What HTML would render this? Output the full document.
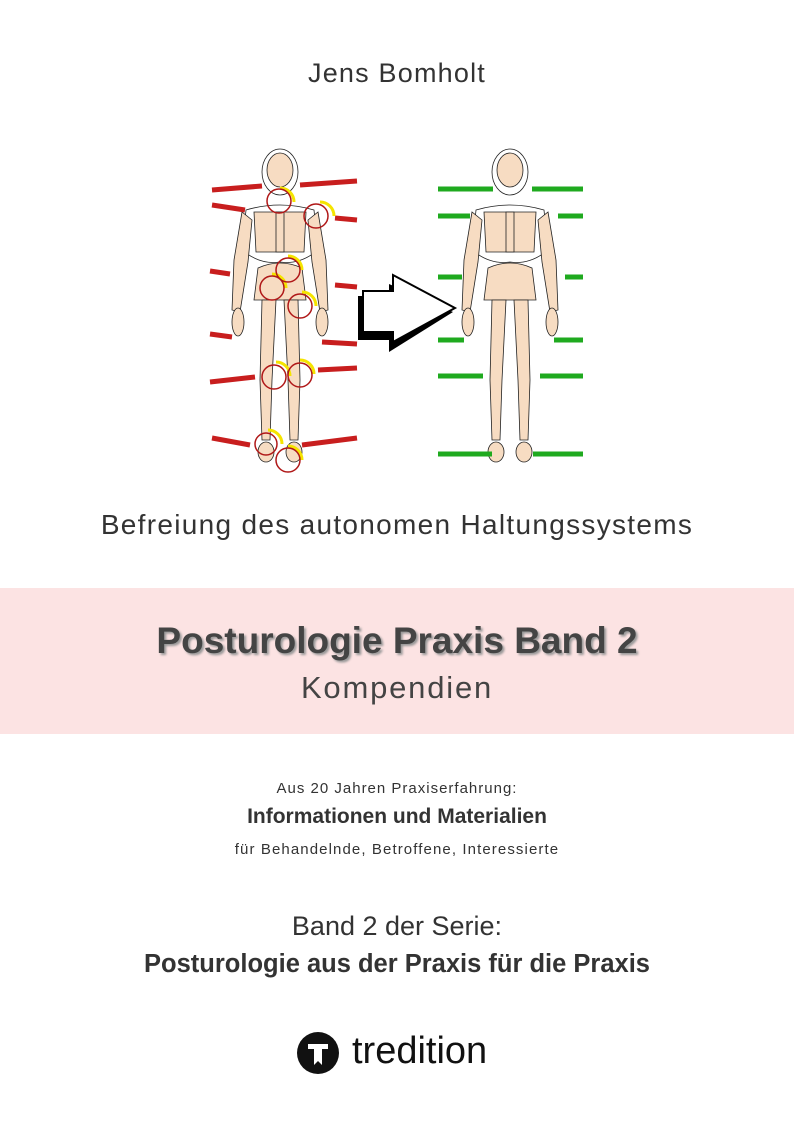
<!DOCTYPE html>
<html><head><meta charset="utf-8"><style>
body{margin:0;width:794px;height:1123px;background:#fff;position:relative;overflow:hidden;font-family:"Liberation Sans",sans-serif;color:#333}
.t{position:absolute;left:0;width:794px;text-align:center;white-space:nowrap}
</style></head><body>
<div class="t" style="top:58px;font-size:27px;letter-spacing:1.2px">Jens Bomholt</div>
<svg style="position:absolute;left:0;top:0" width="794" height="500">
<g id="sk" stroke="#222" stroke-width="0.8" fill="#f7dcc2">
 <ellipse cx="280" cy="172" rx="18" ry="23" fill="#fff"/>
 <ellipse cx="280" cy="170" rx="13" ry="17"/>
 <path d="M246 210 Q280 200 314 210 L318 250 Q300 265 280 262 Q260 265 242 250Z" fill="#fff"/>
 <path d="M254 212 L306 212 L304 252 L256 252Z"/>
 <rect x="276" y="212" width="8" height="40"/>
 <path d="M258 268 Q280 258 302 268 L306 300 L254 300Z"/>
 <path d="M242 212 L234 260 L232 310 L240 312 L248 262 L252 220Z"/>
 <path d="M318 212 L326 260 L328 310 L320 312 L312 262 L308 220Z"/>
 <ellipse cx="238" cy="322" rx="6" ry="14"/><ellipse cx="322" cy="322" rx="6" ry="14"/>
 <path d="M262 300 L276 300 L272 380 L270 440 L262 440 L260 380Z"/>
 <path d="M284 300 L298 300 L300 380 L298 440 L290 440 L288 380Z"/>
 <ellipse cx="266" cy="452" rx="8" ry="10"/><ellipse cx="294" cy="452" rx="8" ry="10"/>
</g>
<use href="#sk" x="230"/>
<g stroke="#c81e1e" stroke-width="5">
<line x1="212" y1="190" x2="262" y2="186"/><line x1="300" y1="185" x2="357" y2="181"/>
<line x1="212" y1="205" x2="245" y2="210"/><line x1="335" y1="218" x2="357" y2="220"/>
<line x1="210" y1="271" x2="230" y2="274"/><line x1="335" y1="285" x2="357" y2="287"/>
<line x1="210" y1="334" x2="232" y2="337"/><line x1="322" y1="342" x2="357" y2="344"/>
<line x1="210" y1="382" x2="255" y2="377"/><line x1="318" y1="370" x2="357" y2="368"/>
<line x1="212" y1="438" x2="250" y2="445"/><line x1="302" y1="445" x2="357" y2="438"/>
</g>
<g fill="none" stroke-width="3" stroke="#f5e400">
<path d="M280 188 a14 14 0 0 1 14 14"/><path d="M320 202 a14 14 0 0 1 14 14"/><path d="M288 256 a14 14 0 0 1 14 14"/><path d="M272 274 a14 14 0 0 1 14 14"/><path d="M302 292 a14 14 0 0 1 14 14"/><path d="M276 362 a14 14 0 0 1 14 14"/><path d="M300 360 a14 14 0 0 1 14 14"/><path d="M268 430 a14 14 0 0 1 14 14"/><path d="M288 446 a14 14 0 0 1 14 14"/>
</g>
<g fill="none" stroke-width="1.5" stroke="#b01818">
<circle cx="279" cy="201" r="12"/><circle cx="316" cy="216" r="12"/><circle cx="288" cy="270" r="12"/><circle cx="272" cy="288" r="12"/><circle cx="300" cy="306" r="12"/><circle cx="274" cy="377" r="12"/><circle cx="300" cy="375" r="12"/><circle cx="266" cy="444" r="11"/><circle cx="288" cy="460" r="12"/>
</g>
<g stroke="#1faa1f" stroke-width="5">
<line x1="438" y1="189" x2="493" y2="189"/><line x1="532" y1="189" x2="583" y2="189"/>
<line x1="438" y1="216" x2="470" y2="216"/><line x1="558" y1="216" x2="583" y2="216"/>
<line x1="438" y1="277" x2="462" y2="277"/><line x1="565" y1="277" x2="583" y2="277"/>
<line x1="438" y1="340" x2="464" y2="340"/><line x1="554" y1="340" x2="583" y2="340"/>
<line x1="438" y1="376" x2="483" y2="376"/><line x1="540" y1="376" x2="583" y2="376"/>
<line x1="438" y1="454" x2="492" y2="454"/><line x1="533" y1="454" x2="583" y2="454"/>
</g>
<path d="M358 296 L389 296 L389 284 L453 312 L389 352 L389 340 L358 340Z" fill="#000"/>
<path d="M363 291 L393 291 L393 275 L455 308 L393 342 L393 332 L363 332Z" fill="#fff" stroke="#000" stroke-width="2"/>
</svg>
<div class="t" style="top:509px;font-size:28px;letter-spacing:1.3px">Befreiung des autonomen Haltungssystems</div>
<div style="position:absolute;left:0;top:588px;width:794px;height:146px;background:#fce3e3"></div>
<div class="t" style="top:620px;font-size:37px;font-weight:bold;color:#444;text-shadow:2px 2px 2px #999">Posturologie Praxis Band 2</div>
<div class="t" style="top:670px;font-size:31px;color:#444;letter-spacing:1.8px">Kompendien</div>
<div class="t" style="top:780px;font-size:15px;letter-spacing:1px">Aus 20 Jahren Praxiserfahrung:</div>
<div class="t" style="top:805px;font-size:21px;font-weight:bold">Informationen und Materialien</div>
<div class="t" style="top:841px;font-size:15px;letter-spacing:1.1px">für Behandelnde, Betroffene, Interessierte</div>
<div class="t" style="top:911px;font-size:27px">Band 2 der Serie:</div>
<div class="t" style="top:950px;font-size:25.5px;font-weight:bold">Posturologie aus der Praxis für die Praxis</div>
<svg style="position:absolute;left:297px;top:1032px" width="42" height="42"><circle cx="21" cy="21" r="21" fill="#111"/><path d="M11 12 H31 V17 H25 V33 L21 29 L17 33 V17 H11Z" fill="#fff"/></svg>
<div style="position:absolute;left:352px;top:1030px;font-size:38px;color:#111">tredition</div>
</body></html>
